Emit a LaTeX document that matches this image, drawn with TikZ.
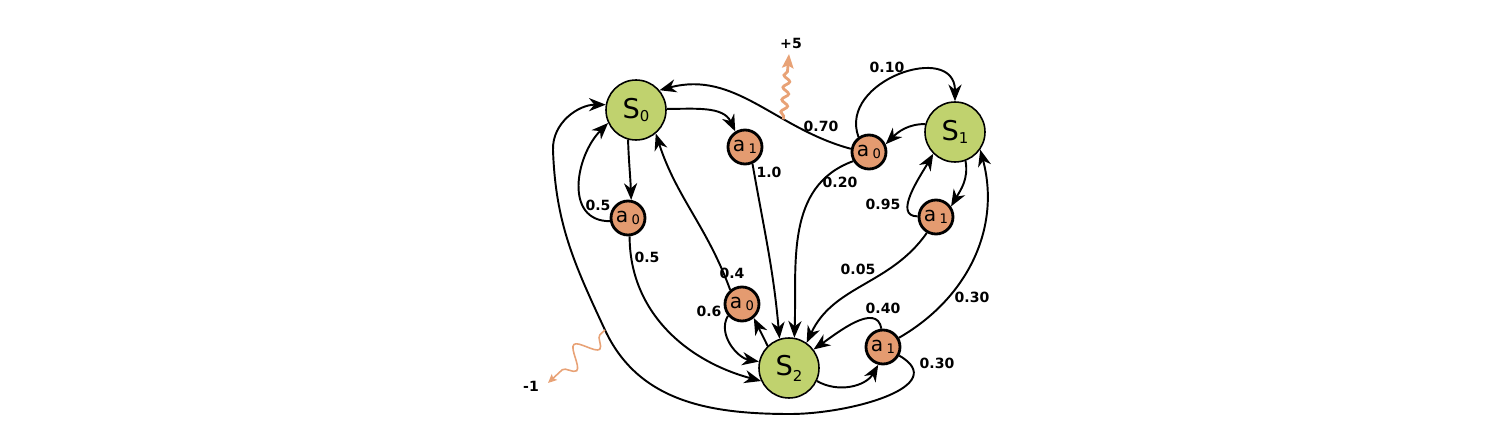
\documentclass[tikz,border=0pt]{standalone}
\usepackage{fontspec}
\setmainfont{DejaVu Sans}
\usetikzlibrary{arrows.meta,decorations.pathmorphing}
\definecolor{stategreen}{RGB}{192,210,110}
\definecolor{actorange}{RGB}{228,155,112}
\definecolor{rewardorange}{RGB}{232,162,118}
\begin{document}
\begin{tikzpicture}[x=0.02cm,y=0.02cm,
  state/.style={circle,draw=black,line width=0.9pt,fill=stategreen,minimum size=1.2cm,inner sep=0pt,font=\fontsize{15.5}{16}\selectfont},
  action/.style={circle,draw=black,line width=1.6pt,fill=actorange,minimum size=0.68cm,inner sep=0pt,font=\fontsize{11.5}{12}\selectfont},
  edge/.style={draw=black,line width=1.1pt,-{Stealth[length=9.5pt,width=7.5pt,inset=3pt]}},
  prob/.style={font=\fontsize{8}{9}\selectfont\bfseries,inner sep=0pt},
  rewardfive/.style={draw=rewardorange,line width=1.6pt,decorate,decoration={snake,amplitude=1.8pt,segment length=7pt,pre length=2pt,post length=9pt},-{Stealth[length=8pt,width=6.5pt,inset=1.5pt]}},
  rewardneg/.style={draw=rewardorange,line width=0.9pt,decorate,decoration={snake,amplitude=6pt,segment length=18pt,pre length=4pt,post length=6pt},-{Stealth[length=5pt,width=4.5pt,inset=1pt]}}
]
\useasboundingbox (0,0) rectangle (1502,440);

% states
\node[state] (S0) at (636,330) {S\raisebox{-0.25ex}{\fontsize{8.5}{8}\selectfont 0}};
\node[state] (S1) at (955,308) {S\raisebox{-0.25ex}{\fontsize{8.5}{8}\selectfont 1}};
\node[state] (S2) at (789,72) {S\raisebox{-0.4ex}{\fontsize{8.5}{8}\selectfont 2}};

% actions
\node[action] (A01) at (745,293) {a\,\raisebox{-0.2ex}{\fontsize{7.5}{7}\selectfont 1}};
\node[action] (A00) at (628,222) {a\,\raisebox{-0.2ex}{\fontsize{7.5}{7}\selectfont 0}};
\node[action] (A10) at (869,288) {a\,\raisebox{-0.2ex}{\fontsize{7.5}{7}\selectfont 0}};
\node[action] (A11) at (936,223) {a\,\raisebox{-0.2ex}{\fontsize{7.5}{7}\selectfont 1}};
\node[action] (A20) at (742,136) {a\,\raisebox{-0.2ex}{\fontsize{7.5}{7}\selectfont 0}};
\node[action] (A21) at (883,93) {a\,\raisebox{-0.2ex}{\fontsize{7.5}{7}\selectfont 1}};

% helper coordinates of the long loop
\coordinate (c1) at (790,26);
\coordinate (c2) at (605,110);
\coordinate (c3) at (553,290);
\coordinate (r5end) at (789,386);
\coordinate (rnend) at (548,57);

% S0 edges
\draw[edge] (S0.2) to[out=0,in=115] (A01.122);
\draw[edge] (A01.-66) to[out=-80,in=95] (S2.108);
\draw[edge] (S0.-105) to[out=-88,in=92] (A00.80);
\draw[edge] (A00.190) to[out=180,in=225,looseness=1.2] (S0.205);
\draw[edge] (A00.-85) to[out=-90,in=165] (S2.205);

% S2 edges
\draw[edge] (A20.130) to[out=110,in=-72] (S0.-50);
\draw[edge] (A20.220) to[out=240,in=170] (S2.168);
\draw[edge] (S2.134) -- (A20.-50);
\draw[edge] (S2.-25) to[out=-30,in=240] (A21.-105);
\draw[edge] (A21.95) to[out=100,in=35] (S2.37);
\draw[edge] (A21.30) to[out=30,in=-75] (S1.-35);
\draw[edge] (A21.-28) to[out=-30,in=0,looseness=1.25] (c1) to[out=180,in=-65] (c2)
  to[out=115,in=-88] (c3) to[out=92,in=180] (S0.170);

% S1 edges
\draw[edge] (S1.165) to[out=180,in=45] (A10.25);
\draw[edge] (A10.170) to[out=165,in=15] coordinate[pos=0.34] (r5) (S0.40);
\draw[edge] (A10.125) to[out=110,in=90,looseness=1.5] (S1.90);
\draw[edge] (A10.210) to[out=200,in=88] (S2.80);
\draw[edge] (S1.-70) to[out=-80,in=60] (A11.35);
\draw[edge] (A11.178) to[out=180,in=240] (S1.225);
\draw[edge] (A11.-120) to[out=-125,in=65] (S2.55);

% rewards
\draw[rewardfive] (r5) -- (r5end);
\draw[rewardneg] (c2) -- (rnend);
\node[prob] (rw5) at (791,397) {+5};
\node[prob] (rwn) at (531,54) {-1};

% probabilities
\node[prob] (p1) at (598,235) {0.5};
\node[prob] (p2) at (647,183) {0.5};
\node[prob] (p3) at (732,167) {0.4};
\node[prob] (p4) at (709,129) {0.6};
\node[prob] (p5) at (769,268) {1.0};
\node[prob] (p6) at (821,314) {0.70};
\node[prob] (p7) at (887,373) {0.10};
\node[prob] (p8) at (840,258) {0.20};
\node[prob] (p9) at (883,236) {0.95};
\node[prob] (p10) at (858,171) {0.05};
\node[prob] (p11) at (883,132) {0.40};
\node[prob] (p12) at (972,143) {0.30};
\node[prob] (p13) at (937,77) {0.30};
\end{tikzpicture}
\end{document}
